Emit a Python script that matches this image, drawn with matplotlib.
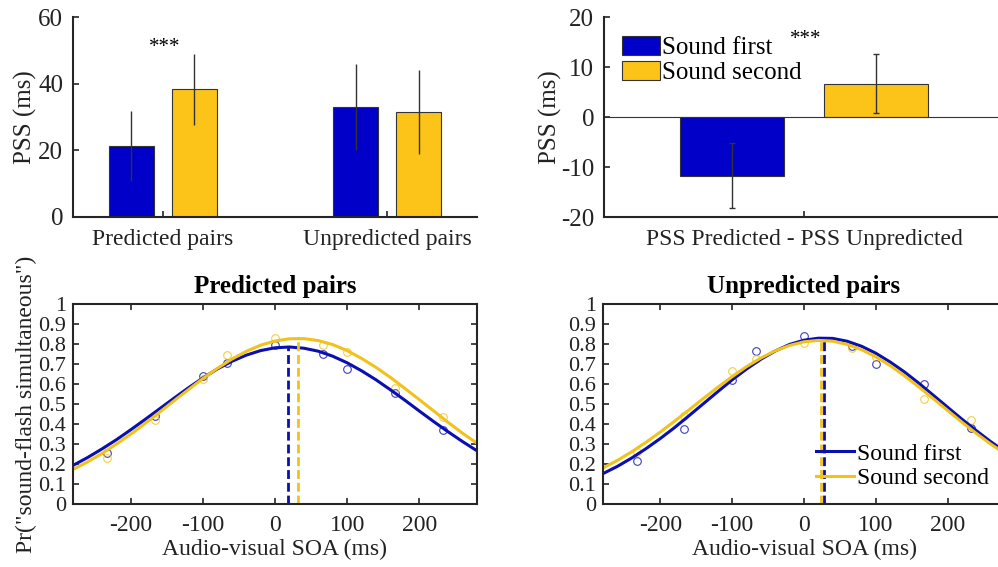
import numpy as np
import matplotlib
matplotlib.use("Agg")
import matplotlib.pyplot as plt

plt.rcParams['font.family'] = ['Liberation Serif', 'DejaVu Serif']
plt.rcParams['axes.unicode_minus'] = False

# ---- data ----
conditions = ['Sound first', 'Sound second']
groups = ['Predicted pairs', 'Unpredicted pairs']
pss_first = [21.4, 33.1]
pss_first_err = [10.5, 12.9]
pss_second = [38.3, 31.5]
pss_second_err = [10.7, 12.7]

diff_label = ['PSS Predicted - PSS Unpredicted']
diff_first = [-11.7]
diff_first_err = [6.5]
diff_second = [6.7]
diff_second_err = [5.85]

soa = [-233, -167, -100, -67, 0, 67, 100, 167, 233]
pred_first_pts = [0.257, 0.439, 0.640, 0.705, 0.793, 0.748, 0.673, 0.555, 0.370]
pred_second_pts = [0.229, 0.419, 0.627, 0.746, 0.829, 0.793, 0.759, 0.582, 0.433]
unpred_first_pts = [0.213, 0.375, 0.618, 0.763, 0.841, 0.790, 0.700, 0.600, 0.380]
unpred_second_pts = [0.260, 0.440, 0.663, 0.725, 0.805, 0.780, 0.735, 0.527, 0.418]

soa_fit = [-280, -260, -240, -220, -200, -180, -160, -140, -120, -100, -80, -60, -40, -20,
           0, 20, 40, 60, 80, 100, 120, 140, 160, 180, 200, 220, 240, 260, 280]
pred_first_fit = [0.193, 0.232, 0.275, 0.321, 0.371, 0.423, 0.476, 0.529, 0.581, 0.630,
                  0.675, 0.713, 0.744, 0.767, 0.781, 0.785, 0.779, 0.764, 0.739, 0.706,
                  0.666, 0.621, 0.571, 0.519, 0.465, 0.412, 0.361, 0.312, 0.266]
pred_second_fit = [0.173, 0.210, 0.252, 0.299, 0.349, 0.403, 0.459, 0.516, 0.572, 0.627,
                   0.678, 0.724, 0.763, 0.794, 0.815, 0.826, 0.827, 0.817, 0.797, 0.767,
                   0.728, 0.683, 0.633, 0.578, 0.522, 0.465, 0.408, 0.354, 0.304]
unpred_first_fit = [0.152, 0.188, 0.230, 0.277, 0.328, 0.383, 0.442, 0.502, 0.562, 0.621,
                    0.675, 0.724, 0.765, 0.798, 0.819, 0.829, 0.828, 0.814, 0.789, 0.754,
                    0.710, 0.660, 0.604, 0.544, 0.484, 0.424, 0.367, 0.312, 0.262]
unpred_second_fit = [0.180, 0.218, 0.261, 0.309, 0.360, 0.415, 0.471, 0.528, 0.584, 0.637,
                     0.687, 0.730, 0.766, 0.793, 0.811, 0.818, 0.814, 0.798, 0.772, 0.736,
                     0.692, 0.641, 0.585, 0.527, 0.468, 0.409, 0.353, 0.300, 0.252]

# PSS (peak location) and height of the fitted curves
pss_pred = [17.6, 31.5]
peak_pred = [0.785, 0.828]
pss_unpred = [27.8, 23.0]
peak_unpred = [0.830, 0.818]

blue = '#0000C8'
yellow = '#FCC419'
line_blue = '#0A0FB0'
line_yellow = '#F2C21C'
dark = '#262626'
fs = 17

W, H = 998, 567
fig = plt.figure(figsize=(W / 100, H / 100), dpi=100)


def px_axes(l, t, r, b):
    return fig.add_axes([l / W, 1 - b / H, (r - l) / W, (b - t) / H])


def style_axes(ax, box=False):
    for s in ['left', 'bottom', 'top', 'right']:
        ax.spines[s].set_linewidth(1.5)
        ax.spines[s].set_color(dark)
    if not box:
        ax.spines['top'].set_visible(False)
        ax.spines['right'].set_visible(False)
    ax.tick_params(direction='in', length=4, width=1.2, colors=dark,
                   labelcolor='#222222', labelsize=fs,
                   top=box, right=box)


# ---- top left: PSS bars ----
ax1 = px_axes(73, 17, 477, 217)
x = np.array([1, 2])
ax1.bar(x - 0.14, pss_first, 0.2, color=blue, edgecolor='#333333', linewidth=0.8,
        label=conditions[0])
ax1.bar(x + 0.14, pss_second, 0.2, color=yellow, edgecolor='#333333', linewidth=0.8,
        label=conditions[1])
ax1.errorbar(x - 0.14, pss_first, yerr=pss_first_err, fmt='none', ecolor='#333333',
             elinewidth=1, capsize=0)
ax1.errorbar(x + 0.14, pss_second, yerr=pss_second_err, fmt='none', ecolor='#333333',
             elinewidth=1, capsize=0)
ax1.text(1.01, 51, '***', ha='center', va='center', fontsize=15)
ax1.set_xlim(0.6, 2.4)
ax1.set_ylim(0, 60)
ax1.set_yticks([0, 20, 40, 60])
ax1.set_xticks(x)
ax1.set_xticklabels(groups)
ax1.set_ylabel('PSS (ms)', fontsize=fs + 1, color='#222222', labelpad=1)
style_axes(ax1)
ax1.tick_params(axis='x', pad=9)
ax1.tick_params(axis='y', labelsize=fs + 1, pad=7)

# ---- top right: difference bars ----
ax2 = px_axes(604, 17, 1004, 217)
ax2.axhline(0, color='#333333', lw=0.8)
ax2.bar([1 - 0.144], diff_first, 0.208, color=blue, edgecolor='#333333', linewidth=0.8,
        label=conditions[0])
ax2.bar([1 + 0.144], diff_second, 0.208, color=yellow, edgecolor='#333333', linewidth=0.8,
        label=conditions[1])
ax2.errorbar([1 - 0.144], diff_first, yerr=diff_first_err, fmt='none', ecolor='#333333',
             elinewidth=1, capsize=2)
ax2.errorbar([1 + 0.144], diff_second, yerr=diff_second_err, fmt='none', ecolor='#333333',
             elinewidth=1, capsize=2)
ax2.text(1.004, 15.6, '***', ha='center', va='center', fontsize=15)
ax2.set_xlim(0.6, 1.4)
ax2.set_ylim(-20, 20)
ax2.set_yticks([-20, -10, 0, 10, 20])
ax2.set_xticks([1])
ax2.set_xticklabels(diff_label)
ax2.set_ylabel('PSS (ms)', fontsize=fs + 1, color='#222222', labelpad=-1)
style_axes(ax2)
ax2.tick_params(axis='x', pad=9)
ax2.tick_params(axis='y', labelsize=fs + 1, pad=7)
ax2.legend(loc='upper left', bbox_to_anchor=(0.045, 0.905), frameon=False, fontsize=fs + 1,
           handlelength=1.5, handleheight=0.8, handletextpad=0.12, labelspacing=0.05,
           borderaxespad=0, borderpad=0)


# ---- bottom: psychometric curves ----
def curve_panel(ax, title, pts1, pts2, fit1, fit2, pss, peak, ylabel=None):
    ax.plot(soa, pts1, 'o', ms=5.5, mfc='none', mec=line_blue, mew=0.8, alpha=0.8)
    ax.plot(soa, pts2, 'o', ms=5.5, mfc='none', mec=line_yellow, mew=0.8, alpha=0.8)
    ax.plot(soa_fit, fit1, color=line_blue, lw=2.2, label=conditions[0])
    ax.plot(soa_fit, fit2, color=line_yellow, lw=2.2, label=conditions[1])
    ax.plot([pss[0], pss[0]], [0, peak[0]], color=line_blue, lw=2, dashes=(3.2, 1.4))
    ax.plot([pss[1], pss[1]], [0, peak[1]], color=line_yellow, lw=2, dashes=(3.2, 1.4))
    ax.set_xlim(-280, 280)
    ax.set_ylim(0, 1)
    ax.set_xticks([-200, -100, 0, 100, 200])
    ax.set_yticks(np.linspace(0, 1, 11))
    ax.set_yticklabels(['0', '0.1', '0.2', '0.3', '0.4', '0.5', '0.6', '0.7', '0.8', '0.9', '1'])
    ax.set_title(title, fontsize=fs + 1, fontweight='bold', pad=8)
    ax.set_xlabel('Audio-visual SOA (ms)', fontsize=fs, color='#222222', labelpad=2)
    if ylabel:
        ax.set_ylabel(ylabel, fontsize=fs, color='#222222', labelpad=1)
    style_axes(ax, box=True)
    ax.tick_params(axis='x', pad=8)
    ax.tick_params(axis='y', labelsize=16, pad=5)


ax3 = px_axes(73, 304, 477, 504)
curve_panel(ax3, 'Predicted pairs', pred_first_pts, pred_second_pts,
            pred_first_fit, pred_second_fit, pss_pred, peak_pred,
            ylabel='Pr("sound-flash simultaneous")')

ax4 = px_axes(603, 304, 1005, 504)
curve_panel(ax4, 'Unpredicted pairs', unpred_first_pts, unpred_second_pts,
            unpred_first_fit, unpred_second_fit, pss_unpred, peak_unpred)
ax4.legend(loc='lower left', bbox_to_anchor=(0.53, 0.075), frameon=False, fontsize=fs,
           handlelength=1.6, handletextpad=0.15, labelspacing=0.12, borderaxespad=0,
           borderpad=0)

fig.savefig('out.png', dpi=100)
